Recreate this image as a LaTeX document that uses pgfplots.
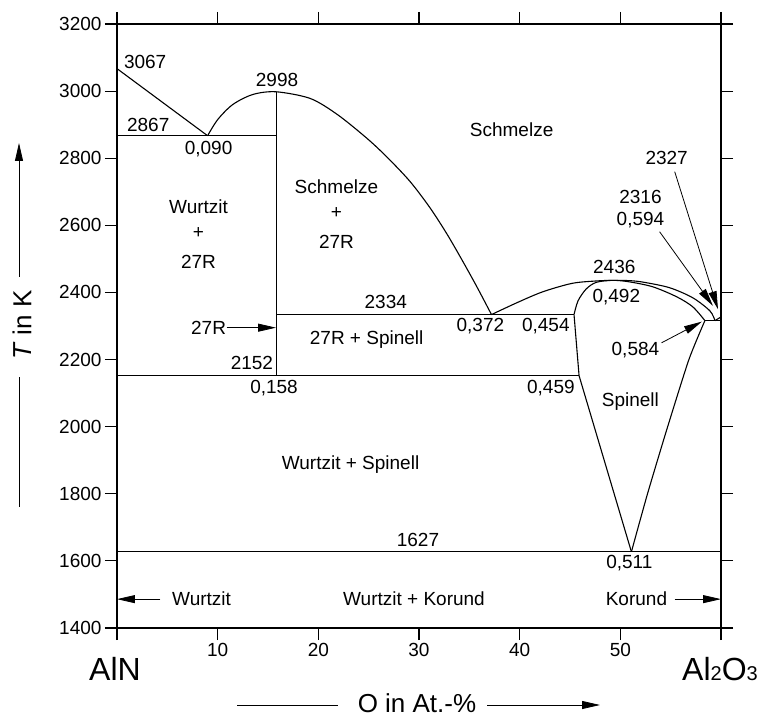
\documentclass[border=0pt]{standalone}
\usepackage{pgfplots}
\pgfplotsset{compat=1.18}
\usepackage{fontspec}
\setmainfont{Liberation Sans}
\usetikzlibrary{arrows.meta}

\newcommand{\lbl}{\fontsize{19bp}{22bp}\selectfont}
\tikzset{
  pf/.style={-{Triangle[length=18bp,width=8bp]}, line width=0.8bp, black},
  t/.style={font=\lbl, inner sep=0pt, anchor=center},
}

\begin{document}
\begin{tikzpicture}
\path[use as bounding box] (-117bp,-92bp) rectangle (642bp,628bp);
\begin{axis}[
  at={(0,0)}, anchor=south west,
  scale only axis, width=604bp, height=604bp,
  xmin=0, xmax=60, ymin=1400, ymax=3200,
  xtick={0,10,...,60}, xticklabels={,10,20,30,40,50,},
  ytick={1400,1600,...,3200},
  tick align=outside, major tick length=12bp,
  axis line style={line width=1.5bp},
  every tick/.style={black, line width=1.2bp},
  tick label style={font=\lbl},
  /pgf/number format/assume math mode=true,
  /pgf/number format/set thousands separator={},
  clip=false,
  cycle list={{black, solid, mark=none}},
  every axis plot/.append style={black, line width=1.1bp, mark=none},
]
% liquidus of AlN side
\addplot coordinates {(0,3067) (9.0,2867)};
\addplot[smooth, tension=0.5] coordinates {
  (9.0,2867) (10.0,2915) (11.5,2960) (13.5,2990) (15.8,2998)
  (19.2,2978) (21.9,2930) (24.8,2860) (26.8,2804) (29.1,2731)
  (31.1,2652) (32.8,2573) (34.4,2490) (35.8,2414) (37.2,2334)};
% liquidus over the spinel field
\addplot[smooth, tension=0.5] coordinates {
  (37.2,2334) (39.7,2369) (42.3,2402) (45.2,2427) (47.5,2434)
  (49.2,2436) (51.0,2435) (52.4,2430) (54.9,2414) (57.2,2384)
  (58.9,2345) (59.4,2316)};
\addplot coordinates {(59.4,2316) (60,2327)};
% spinel solidus
\addplot[smooth, tension=0.5] coordinates {
  (45.4,2334) (45.8,2375) (46.6,2410) (47.6,2430) (49.2,2436)
  (50.8,2432) (53.2,2417) (55.6,2387) (57.2,2357) (58.4,2316)};
% spinel solvus lines
\addplot coordinates {(45.4,2334) (45.9,2152) (51.1,1627)};
\addplot[smooth, tension=0.4] coordinates {
  (51.1,1627) (52.7,1800) (54.6,1990) (56.8,2199) (58.4,2316)};
% invariant lines
\addplot coordinates {(0,2867) (15.8,2867)};
\addplot coordinates {(15.8,2998) (15.8,2152)};
\addplot coordinates {(15.8,2334) (45.4,2334)};
\addplot coordinates {(0,2152) (45.9,2152)};
\addplot coordinates {(0,1627) (60,1627)};
\addplot coordinates {(58.4,2316) (60,2316)};

% arrows
\draw[pf] (axis cs:4.3,1486) -- (axis cs:0,1486);
\draw[pf] (axis cs:55.4,1486) -- (axis cs:60,1486);
\draw[pf] (axis cs:10.9,2295) -- (axis cs:15.8,2295);
\draw[pf] (axis cs:55.4,2760) -- (axis cs:59.7,2350);
\draw[pf] (axis cs:53.9,2581) -- (axis cs:59.2,2360);
\draw[pf] (axis cs:54.1,2250) -- (axis cs:58.1,2313);

% labels
\node[t] at (axis cs:2.8,3088) {3067};
\node[t] at (axis cs:15.9,3034) {2998};
\node[t] at (axis cs:3.1,2900) {2867};
\node[t] at (axis cs:9.1,2826) {0,090};
\node[t] at (axis cs:8.1,2656) {Wurtzit};
\node[t] at (axis cs:8.1,2578) {+};
\node[t] at (axis cs:8.1,2491) {27R};
\node[t] at (axis cs:21.8,2715) {Schmelze};
\node[t] at (axis cs:21.8,2638) {+};
\node[t] at (axis cs:21.8,2551) {27R};
\node[t] at (axis cs:39.2,2885) {Schmelze};
\node[t] at (axis cs:26.7,2372) {2334};
\node[t] at (axis cs:9.1,2295) {27R};
\node[t] at (axis cs:13.4,2190) {2152};
\node[t] at (axis cs:15.6,2116) {0,158};
\node[t] at (axis cs:24.8,2259) {27R + Spinell};
\node[t] at (axis cs:36.1,2301) {0,372};
\node[t] at (axis cs:42.6,2301) {0,454};
\node[t] at (axis cs:49.4,2477) {2436};
\node[t] at (axis cs:49.6,2387) {0,492};
\node[t] at (axis cs:54.6,2802) {2327};
\node[t] at (axis cs:52.0,2685) {2316};
\node[t] at (axis cs:52.0,2617) {0,594};
\node[t] at (axis cs:51.5,2229) {0,584};
\node[t] at (axis cs:51.0,2074) {Spinell};
\node[t] at (axis cs:43.1,2116) {0,459};
\node[t] at (axis cs:23.2,1886) {Wurtzit + Spinell};
\node[t] at (axis cs:29.9,1662) {1627};
\node[t] at (axis cs:50.9,1594) {0,511};
\node[t] at (axis cs:8.4,1486) {Wurtzit};
\node[t] at (axis cs:29.5,1486) {Wurtzit + Korund};
\node[t] at (axis cs:51.6,1486) {Korund};
\end{axis}

% end members
\node[anchor=base, inner sep=0pt, font=\fontsize{32bp}{32bp}\selectfont] at (-2bp,-52bp) {AlN};
\node[anchor=base west, inner sep=0pt, font=\fontsize{32bp}{32bp}\selectfont] at (565bp,-52bp)
  {Al{\fontsize{20bp}{20bp}\selectfont 2}O{\fontsize{20bp}{20bp}\selectfont 3}};

% axis titles with arrows
\node[anchor=base, inner sep=0pt, font=\fontsize{26bp}{26bp}\selectfont] at (300bp,-84bp) {O in At.-\%};
\draw[line width=0.8bp] (120bp,-77bp) -- (221bp,-77bp);
\draw[pf] (370bp,-77bp) -- (483bp,-77bp);
\node[rotate=90, anchor=center, inner sep=0pt, font=\fontsize{26bp}{26bp}\selectfont] at (-95bp,303bp) {\textit{T} in K};
\draw[line width=0.8bp] (-98bp,121bp) -- (-98bp,251bp);
\draw[pf] (-98bp,351bp) -- (-98bp,485bp);
\end{tikzpicture}
\end{document}
